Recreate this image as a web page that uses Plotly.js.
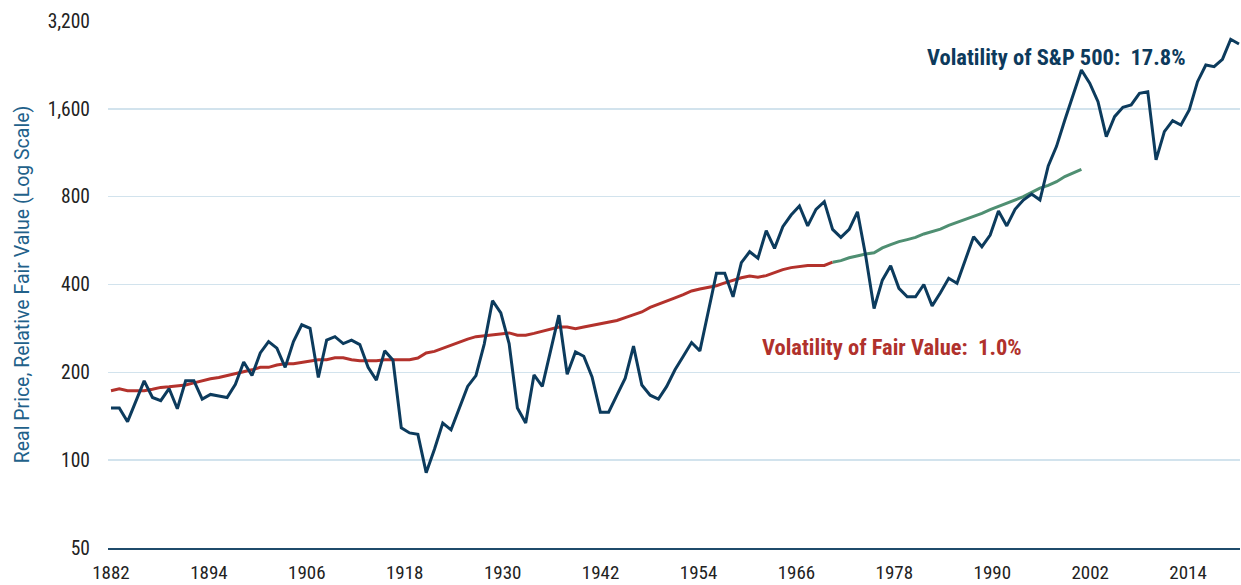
<!DOCTYPE html>
<html>
<head>
<meta charset="utf-8">
<script src="https://cdn.plot.ly/plotly-3.0.1.min.js"></script>
<style>
html,body{margin:0;padding:0;background:#fff;}
#chart{width:1241px;height:585px;}
</style>
</head>
<body>
<div id="chart"></div>
<script>
// Real S&P 500 price (January values), 1883 - 2019
const priceStartYear = 1883;
const realPrice = [
151,151,135.5,160,187,164,160,176,150,187,
187,162,168,166,164,182,217,195,233,255,
242,208,255,291,283,192,258,265,251,258,
249,208,188,237,220,129,124,122.6,90.6,109,
134,127,151,179,195,250,352,320,251,151,
134,196,179,238,314,197,235,227,193,146,
146,167,191,246,181,167,162,179,204,227,
253,237,319,437,437,363,475,518,492,612,
532,631,692,743,635,724,769,618,580,618,
710,500,331,414,464,388,363,363,400,338,
375,420,404,485,583,539,591,714,635,724,
779,817,779,1020,1190,1465,1785,2174,1958,1692,
1284,1504,1620,1650,1809,1832,1069,1337,1457,1408,
1586,1982,2262,2232,2366,2770,2669
];

// Fair value, 1883 - 1970 (actual)
const fairStartYear = 1883;
const fairValue = [
173,175.5,173,173,173,175,177.6,178.5,180,181,
184,187.5,190,192,195,197,200,204,208,208,
212,214,214,216,219,221,221,224.5,224.5,221,
219,219,219,221,221,221,221,224,233,236,
242,248.5,253.5,260,265,267,270,272,273,268,
268,272,277,281,286,286,282,286,290,294,
297,301,308,315,322,334,343,350,360,369,
380,386,390,396,405,414,422,428,424,429,
440,450,457,461,465,465,465,477
];

// Fair value, 1970 - 2000 (estimated)
const fairEstStartYear = 1970;
const fairValueEst = [
477,483,494,503,509,514,534,548,561,570,
580,596,609,619,638,653,670,686,701,722,
740,759,780,800,828,856,875,900,938,966,993
];

const yTickVals = [50,100,200,400,800,1600,3200];
const yTickText = ['50','100','200','400','800','1,600','3,200'];
const xTickText = ['1882','1894','1906','1918','1930','1942','1954','1966','1978','1990','2002','2014'];

const yearsFrom = (start, arr) => arr.map((_, i) => start + i);

const labelStep = 11.806; // label spacing in data units, as drawn in the reference
const xTickVals = xTickText.map((_, k) => priceStartYear + k * labelStep);

const traces = [
  {x: yearsFrom(fairStartYear, fairValue), y: fairValue, type:'scatter', mode:'lines',
   line:{color:'#b3322c', width:3}, hoverinfo:'skip', name:'Fair Value'},
  {x: yearsFrom(fairEstStartYear, fairValueEst), y: fairValueEst, type:'scatter', mode:'lines',
   line:{color:'#4f8f72', width:3}, hoverinfo:'skip', name:'Fair Value (est.)'},
  {x: yearsFrom(priceStartYear, realPrice), y: realPrice, type:'scatter', mode:'lines',
   line:{color:'#0c3b5d', width:3}, name:'S&P 500 Real Price'}
];

const condensed = 'Roboto Condensed, Liberation Sans Narrow, DejaVu Sans Condensed, Roboto, sans-serif';

const layout = {
  width:1241, height:585,
  margin:{l:108, r:1, t:21, b:37},
  paper_bgcolor:'#ffffff', plot_bgcolor:'#ffffff',
  showlegend:false,
  font:{family:'Roboto, sans-serif', size:17, color:'#222222'},
  xaxis:{
    range:[1882.64, 2019.12],
    tickmode:'array', tickvals:xTickVals, ticktext:xTickText,
    showgrid:false, zeroline:false,
    showline:true, linecolor:'#1f4b6b', linewidth:2,
    ticks:'', ticklabelstandoff:6,
    tickfont:{family:condensed, size:19, color:'#222222'}
  },
  yaxis:{
    type:'log',
    range:[Math.log10(50), Math.log10(3200)],
    tickmode:'array', tickvals:yTickVals, ticktext:yTickText,
    showgrid:true, gridcolor:'#d2e3ed', gridwidth:1.5,
    zeroline:false, showline:false, ticks:'',
    ticklabelstandoff:17,
    tickfont:{family:condensed, size:19.5, color:'#222222'},
    title:{text:'Real Price, Relative Fair Value (Log Scale)', standoff:12,
           font:{family:'Roboto, sans-serif', size:19.5, color:'#22618a'}}
  },
  annotations:[
    {xref:'paper', yref:'paper', x:(925-108)/1132, y:(548-57)/527,
     xanchor:'left', yanchor:'middle', showarrow:false,
     text:'<b>Volatility of S&amp;P 500:  17.8%</b>',
     font:{family:condensed, size:22.5, color:'#0d3a5c'}},
    {xref:'paper', yref:'paper', x:(760-108)/1132, y:(548-347)/527,
     xanchor:'left', yanchor:'middle', showarrow:false,
     text:'<b>Volatility of Fair Value:  1.0%</b>',
     font:{family:condensed, size:22.5, color:'#b0312c'}}
  ]
};

Plotly.newPlot('chart', traces, layout, {displayModeBar:false, staticPlot:true});
</script>
</body>
</html>
